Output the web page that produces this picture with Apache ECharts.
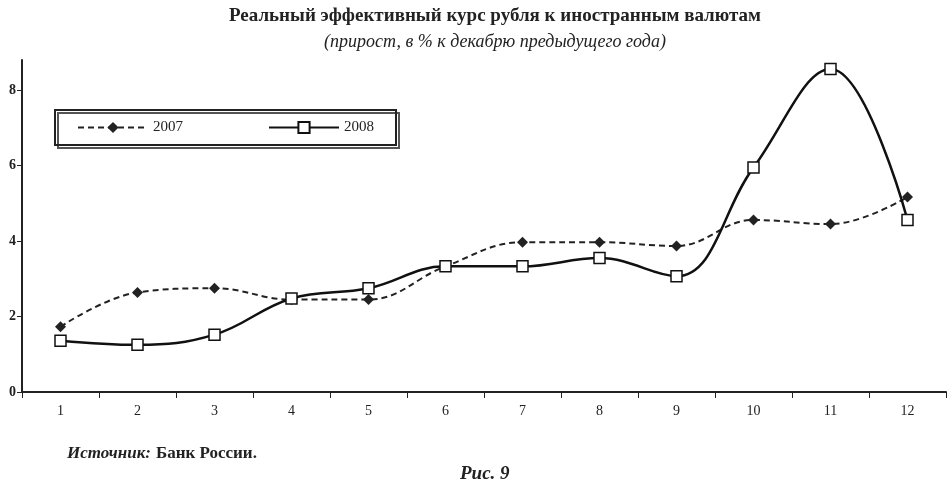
<!DOCTYPE html><html><head><meta charset="utf-8"><script src="https://cdn.jsdelivr.net/npm/echarts@6/dist/echarts.min.js"></script></head><body style="margin:0;background:#fff"><div id="c" style="width:950px;height:486px"></div><script>
const categories=['1','2','3','4','5','6','7','8','9','10','11','12'];
const s2007=[1.73,2.64,2.75,2.45,2.45,3.33,3.97,3.97,3.87,4.56,4.45,5.17];
const s2008=[1.36,1.25,1.52,2.48,2.75,3.33,3.33,3.55,3.07,5.95,8.56,4.56];
const yTicks=[0,2,4,6,8];
const ch=echarts.init(document.getElementById('c'));
const F='Liberation Serif';
ch.setOption({animation:false,
title:[{text:'Реальный эффективный курс рубля к иностранным валютам',left:490,top:2,textAlign:'center',textStyle:{fontFamily:F,fontSize:19,fontWeight:'bold',color:'#222'}},
{text:'(прирост, в % к декабрю предыдущего года)',left:490,top:28,textAlign:'center',textStyle:{fontFamily:F,fontSize:18,fontStyle:'italic',fontWeight:'normal',color:'#222'}},
{text:'{i|Источник:} {n|Банк России.}',left:62,top:440,textStyle:{rich:{i:{fontFamily:F,fontSize:17,fontStyle:'italic',color:'#222'},n:{fontFamily:F,fontSize:17,color:'#222'}}}},
{text:'Рис. 9',left:455,top:460,textStyle:{fontFamily:F,fontSize:19,fontStyle:'italic',fontWeight:'bold',color:'#222'}}],
legend:{left:55,top:110,width:330,height:40,itemGap:85,padding:[10,22],borderColor:'#222',borderWidth:2,shadowColor:'#555',shadowOffsetX:3,shadowOffsetY:3,itemWidth:70,textStyle:{fontFamily:F,fontSize:15,color:'#222'},data:['2007','2008']},
grid:{left:22,right:4,top:60,bottom:94},
xAxis:{type:'category',data:categories,axisLine:{lineStyle:{color:'#222',width:2}},axisTick:{show:true,length:6,lineStyle:{color:'#222'}},axisLabel:{fontFamily:F,fontSize:14,color:'#222',margin:12}},
yAxis:{type:'value',min:0,max:8.8,interval:2,axisLine:{show:true,lineStyle:{color:'#222',width:2}},axisTick:{show:true,lineStyle:{color:'#222'}},splitLine:{show:false},axisLabel:{fontFamily:F,fontSize:14,fontWeight:'bold',color:'#222',margin:6,showMaxLabel:false,formatter:v=>yTicks.includes(v)?String(v):''}},
series:[{name:'2007',type:'line',smooth:0.4,data:s2007,symbol:'diamond',symbolSize:11,lineStyle:{color:'#222',width:2,type:[6,4]},itemStyle:{color:'#222'}},
{name:'2008',type:'line',smooth:0.4,data:s2008,symbol:'rect',symbolSize:11,lineStyle:{color:'#111',width:2.5},itemStyle:{color:'#fff',borderColor:'#111',borderWidth:1.5}}]});
</script></body></html>
